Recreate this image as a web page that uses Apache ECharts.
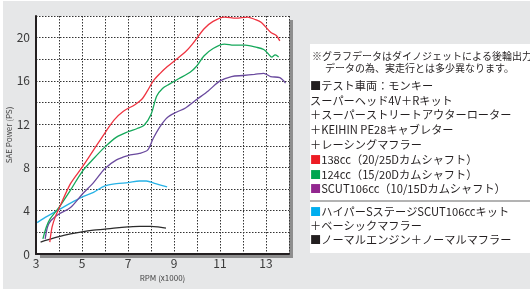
<!DOCTYPE html>
<html>
<head>
<meta charset="utf-8">
<script src="https://cdn.jsdelivr.net/npm/echarts@6/dist/echarts.min.js"></script>
<style>
html,body{margin:0;padding:0;background:#fff;}
#chart{width:530px;height:289px;}
</style>
</head>
<body>
<div id="chart"></div>
<script>
// RPM (x1000) / SAE Power (PS)
const red138 = [[3.6,1.1],[3.7,2.5],[3.85,3.5],[4,4.2],[4.5,6.5],[5,8.0],[5.5,9.6],[6,11.2],[6.4,12.4],[6.8,13.2],[7.3,13.8],[7.6,14.3],[7.85,15.1],[8.1,16.0],[8.4,16.7],[8.7,17.3],[9.1,18.0],[9.5,18.7],[9.8,19.4],[10.3,20.8],[10.7,21.5],[11.2,21.9],[11.7,21.8],[12.2,21.9],[12.5,21.7],[12.8,21.4],[13.2,20.5],[13.45,20.2],[13.6,19.7]];
const green124 = [[3.3,1.4],[3.45,2.5],[3.6,3.2],[4,4.3],[4.5,5.9],[5,7.6],[5.5,8.8],[6,9.9],[6.5,10.8],[7,11.3],[7.4,11.6],[7.7,11.9],[8,12.9],[8.25,14.6],[8.5,15.3],[8.8,15.7],[9.2,16.2],[9.7,16.8],[10,17.4],[10.3,18.3],[10.7,19.0],[11.2,19.4],[11.6,19.3],[12.1,19.3],[12.6,19.1],[12.9,18.9],[13.1,18.5],[13.25,18.2],[13.4,18.4],[13.55,18.2]];
const purpleScut = [[3.4,1.4],[3.5,2.5],[3.65,3.1],[4,3.7],[4.5,4.3],[5,5.5],[5.5,6.6],[6,7.9],[6.5,8.7],[7,9.1],[7.5,9.3],[7.85,9.6],[8.1,10.7],[8.4,11.8],[8.7,12.6],[9.1,13.1],[9.5,13.5],[10,14.3],[10.5,15.1],[11,16.0],[11.5,16.4],[12,16.5],[12.5,16.6],[12.9,16.7],[13.2,16.4],[13.6,16.3],[13.85,15.8]];
const cyanHyper = [[3.05,2.9],[3.5,3.5],[4,4.1],[4.5,4.7],[5,5.25],[5.5,5.7],[6,6.3],[6.5,6.5],[7,6.6],[7.5,6.75],[7.8,6.75],[8.2,6.5],[8.7,6.2]];
const blackNormal = [[3.2,1.1],[3.5,1.3],[4,1.6],[4.5,1.85],[5,2.05],[5.5,2.2],[6,2.3],[6.5,2.42],[7,2.5],[7.5,2.55],[8,2.55],[8.3,2.5],[8.65,2.4]];

const noteLines = ['※グラフデータはダイノジェットによる後輪出力','データの為、実走行とは多少異なります。'];
const specLines = ['{k|■}テスト車両：モンキー','スーパーヘッド4V＋Rキット','＋スーパーストリートアウターローター','＋KEIHIN PE28キャブレター','＋レーシングマフラー','{r|■}138cc（20/25Dカムシャフト）','{g|■}124cc（15/20Dカムシャフト）','{p|■}SCUT106cc（10/15Dカムシャフト）'];
const otherLines = ['{c|■}ハイパーSステージSCUT106ccキット','＋ベーシックマフラー','{k|■}ノーマルエンジン＋ノーマルマフラー'];

const font = '"Noto Sans CJK JP", "Noto Sans", sans-serif';
const txtColor = '#231f20';
const fs = 11.2;
const rich = {
    r:{fill:'#ed1c24',fontSize:fs,fontFamily:font},
    g:{fill:'#00a651',fontSize:fs,fontFamily:font},
    p:{fill:'#92278f',fontSize:fs,fontFamily:font},
    c:{fill:'#00aeef',fontSize:fs,fontFamily:font},
    k:{fill:'#231f20',fontSize:fs,fontFamily:font}
};

let chart = echarts.init(document.getElementById('chart'));

let graphics = [
    {type:'rect',z:-10,shape:{x:3,y:1,width:527,height:288},style:{fill:'#e6e7e8'}},
    {type:'rect',z:-5,shape:{x:310,y:44,width:220,height:209},style:{fill:'#fff'}},
    {type:'line',z:-4,shape:{x1:310,y1:201,x2:530,y2:201},style:{stroke:'#9a9a9a',lineWidth:1.5}}
];
noteLines.forEach((t,i)=>{
    graphics.push({type:'text',left:i==0?312:325,top:i==0?51:63,style:{text:t,fill:txtColor,fontSize:10,fontFamily:font}});
});
specLines.forEach((t,i)=>{
    graphics.push({type:'text',left:310,top:80+i*14.8,style:{text:t,rich:rich,fill:txtColor,fontSize:fs,fontFamily:font}});
});
otherLines.forEach((t,i)=>{
    graphics.push({type:'text',left:310,top:206+i*14,style:{text:t,rich:rich,fill:txtColor,fontSize:fs,fontFamily:font}});
});

function line(name,data,color){
    return {
        name:name,type:'line',data:data,smooth:0.3,showSymbol:false,
        lineStyle:{color:color,width:1.3},
        animation:false
    };
}

const option = {
    backgroundColor:'#fff',
    animation:false,
    grid:{
        left:36,top:16,right:241,bottom:35,
        show:true,backgroundColor:'#fff',borderWidth:0,
        shadowColor:'#8e8e8e',shadowBlur:0,shadowOffsetX:4,shadowOffsetY:4
    },
    xAxis:{
        type:'value',min:3,max:14,interval:1,
        name:'RPM (x1000)',nameLocation:'middle',nameGap:19,
        nameTextStyle:{fontSize:8,color:'#444',fontFamily:font},
        axisLine:{show:true,lineStyle:{color:'#231f20',width:2}},
        axisTick:{show:false},
        axisLabel:{
            fontSize:12,color:'#3a3a3a',fontFamily:font,margin:3,
            formatter:v=>(v%2==1?v:'')
        },
        splitLine:{show:true,lineStyle:{color:'#333',type:[1.5,1.5],width:1}}
    },
    yAxis:{
        type:'value',min:0,max:22,interval:2,
        name:'SAE Power (PS)',nameLocation:'middle',nameGap:17,
        nameTextStyle:{fontSize:8,color:'#444',fontFamily:font},
        axisLine:{show:true,lineStyle:{color:'#231f20',width:2}},
        axisTick:{show:false},
        axisLabel:{
            fontSize:12,color:'#3a3a3a',fontFamily:font,margin:6,
            formatter:v=>(v%4==0?v:'')
        },
        splitLine:{show:true,lineStyle:{color:'#333',type:[1.5,1.5],width:1}}
    },
    graphic:graphics,
    series:[
        line('normal',blackNormal,'#2b2b2b'),
        line('hyper',cyanHyper,'#27b2e6'),
        line('scut106',purpleScut,'#6a4a9e'),
        line('124cc',green124,'#15a85a'),
        line('138cc',red138,'#ef3340')
    ]
};
chart.setOption(option);
</script>
</body>
</html>
